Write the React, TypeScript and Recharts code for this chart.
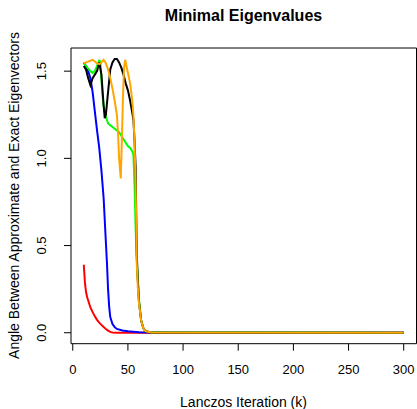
import { LineChart, Line, XAxis, YAxis, ReferenceArea } from 'recharts';

const xTicks = [0, 50, 100, 150, 200, 250, 300];
const yTicks = [0, 0.5, 1, 1.5];

const redK = [10, 11, 12, 13, 14, 16, 18, 20, 22, 24, 26, 28, 30, 32, 34, 36, 40, 300];
const redV = [0.39, 0.29, 0.235, 0.205, 0.185, 0.145, 0.118, 0.095, 0.074, 0.058, 0.045, 0.033, 0.022, 0.012, 0.005, 0.002, 0.0005, 0];

const blueK = [10, 12, 14, 16, 18, 20, 22, 24, 26, 28, 30, 31, 32, 33, 34, 36, 38, 40, 45, 50, 60, 70, 300];
const blueV = [1.55, 1.53, 1.5, 1.46, 1.38, 1.27, 1.16, 1.06, 0.93, 0.77, 0.52, 0.4, 0.25, 0.15, 0.09, 0.05, 0.032, 0.022, 0.013, 0.008, 0.003, 0.001, 0];

const greenK = [10, 12, 14, 16, 18, 20, 22, 24, 25, 26, 27, 28, 30, 32, 34, 36, 38, 40, 42, 44, 46, 48, 50, 52, 54, 55, 56, 57, 58, 60, 62, 64, 66, 70, 300];
const greenV = [1.545, 1.53, 1.515, 1.5, 1.49, 1.5, 1.53, 1.56, 1.555, 1.45, 1.36, 1.3, 1.24, 1.2, 1.19, 1.18, 1.17, 1.16, 1.15, 1.13, 1.11, 1.09, 1.07, 1.06, 1.04, 1.02, 0.85, 0.6, 0.42, 0.19, 0.07, 0.025, 0.01, 0.003, 0];

const blackK = [10, 12, 14, 16, 18, 20, 22, 24, 26, 28, 29, 30, 32, 34, 36, 38, 40, 42, 44, 46, 48, 50, 52, 54, 55, 56, 57, 58, 59, 60, 62, 64, 66, 70, 300];
const blackV = [1.53, 1.51, 1.46, 1.42, 1.46, 1.48, 1.5, 1.55, 1.48, 1.3, 1.23, 1.25, 1.38, 1.51, 1.55, 1.57, 1.57, 1.55, 1.52, 1.48, 1.43, 1.39, 1.33, 1.26, 1.22, 1.1, 0.95, 0.45, 0.3, 0.18, 0.07, 0.025, 0.01, 0.002, 0];

const orangeK = [10, 12, 14, 16, 18, 20, 22, 24, 26, 28, 30, 32, 34, 36, 38, 40, 41, 42, 43.5, 44.5, 45.5, 46.5, 47.5, 49, 50, 52, 54, 55, 56, 57, 58, 59, 60, 62, 64, 66, 70, 72, 300];
const orangeV = [1.545, 1.55, 1.555, 1.56, 1.565, 1.555, 1.545, 1.54, 1.55, 1.565, 1.545, 1.51, 1.46, 1.4, 1.33, 1.25, 1.15, 1.0, 0.885, 1.1, 1.35, 1.52, 1.565, 1.52, 1.49, 1.43, 1.33, 1.24, 1.1, 0.85, 0.4, 0.26, 0.17, 0.07, 0.025, 0.01, 0.003, 0.001, 0];

const toData = (ks: number[], vs: number[]) => ks.map((k, i) => ({ k, v: vs[i] }));

const series = [
  { name: 'red', color: '#FF0000', data: toData(redK, redV) },
  { name: 'blue', color: '#0000FF', data: toData(blueK, blueV) },
  { name: 'green', color: '#00FF00', data: toData(greenK, greenV) },
  { name: 'black', color: '#000000', data: toData(blackK, blackV) },
  { name: 'orange', color: '#FFA500', data: toData(orangeK, orangeV) },
];

const font = '"Liberation Sans", Arial, Helvetica, sans-serif';
const xDomain: [number, number] = [-1.6, 311.6];
const yDomain: [number, number] = [-0.0628, 1.6328];

const XTick = ({ x, payload }: any) => (
  <text x={x} y={369} textAnchor="middle" dominantBaseline="central" fontSize={13} fontFamily={font} fill="#000">
    {payload.value}
  </text>
);

const YTick = ({ y, payload }: any) => (
  <text
    x={42}
    y={y}
    transform={`rotate(-90 42 ${y})`}
    textAnchor="middle"
    dominantBaseline="central"
    fontSize={13}
    fontFamily={font}
    fill="#000"
  >
    {payload.value.toFixed(1)}
  </text>
);

export default function App() {
  return (
    <div style={{ position: 'absolute', left: 0, top: 0, width: 417, height: 409, background: '#fff' }}>
      <LineChart width={417} height={409} margin={{ top: 48, right: 0.5, left: 0, bottom: 0 }}>
        <XAxis
          type="number"
          dataKey="k"
          domain={xDomain}
          ticks={xTicks}
          allowDataOverflow
          axisLine={false}
          tickLine={{ stroke: '#000' }}
          tickSize={7}
          height={65.3}
          tick={<XTick />}
        />
        <YAxis
          type="number"
          domain={yDomain}
          ticks={yTicks}
          allowDataOverflow
          axisLine={false}
          tickLine={{ stroke: '#000' }}
          tickSize={7}
          width={71}
          tick={<YTick />}
        />
        <ReferenceArea x1={xDomain[0]} x2={xDomain[1]} y1={yDomain[0]} y2={yDomain[1]} fill="none" stroke="#000" strokeWidth={1} />
        {series.map((s) => (
          <Line
            key={s.name}
            data={s.data}
            dataKey="v"
            type="linear"
            stroke={s.color}
            strokeWidth={2}
            dot={false}
            isAnimationActive={false}
          />
        ))}
      </LineChart>
      <svg width={417} height={409} style={{ position: 'absolute', left: 0, top: 0, pointerEvents: 'none' }}>
        <text x={243.5} y={15} textAnchor="middle" dominantBaseline="central" fontSize={16} fontWeight="bold" fontFamily={font}>
          Minimal Eigenvalues
        </text>
        <text x={243.5} y={401.5} textAnchor="middle" dominantBaseline="central" fontSize={14} fontFamily={font}>
          Lanczos Iteration (k)
        </text>
        <text
          x={14}
          y={195.5}
          transform="rotate(-90 14 195.5)"
          textAnchor="middle"
          dominantBaseline="central"
          fontSize={14}
          fontFamily={font}
        >
          Angle Between Approximate and Exact Eigenvectors
        </text>
      </svg>
    </div>
  );
}
